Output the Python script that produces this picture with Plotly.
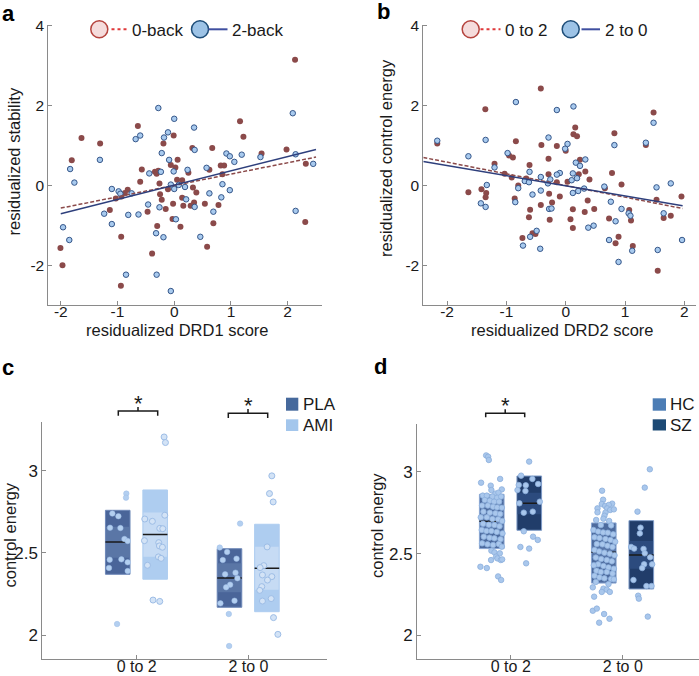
import plotly.graph_objects as go

W, H = 699, 676
def PX(x): return x / W
def PY(y): return 1 - y / H

FONT = "Liberation Sans, Arial, sans-serif"
TXT = "#1a1a1a"
AX = "#8a8a8a"

# ---------------- Panel a : residualized stability vs DRD1 ----------------
a_0back_x = [-1.635,-1.306,-1.806,-2.006,-1.97,-0.641,-0.571,-0.60,-0.94,-0.935,-1.135,-1.03,-0.82,-0.87,-0.93,-0.47,-0.39,-0.30,-0.19,-0.01,-0.06,0.02,0.06,-0.34,-0.31,-0.28,-0.26,-0.25,-0.22,-0.15,-0.11,-0.03,-0.02,0.05,0.11,0.14,0.14,0.16,0.25,0.29,0.32,0.33,0.35,0.39,0.54,0.58,0.62,0.67,0.69,0.78,0.82,0.85,0.88,1.16,1.22,1.54,1.98,2.13,2.32,2.31]
a_0back_y = [1.19,1.05,0.63,-1.57,-2.0,1.49,0.40,0.09,-2.52,-1.29,-0.62,-0.33,-0.11,-0.19,-0.28,-0.66,-1.71,-1.02,1.05,1.25,0.51,0.45,0.64,0.34,0.29,0.37,0.05,-0.22,-0.36,-0.59,-0.10,-0.84,-0.46,0.14,-1.04,0.13,-0.31,-0.51,0.32,-0.51,0.94,-0.05,-0.43,-0.18,-0.46,-1.54,0.39,0.94,-0.95,-0.49,0.50,0.28,0.50,1.61,1.22,0.80,0.90,3.15,0.54,-0.92]
a_2back_x = [-1.835,-1.76,-1.96,-1.85,-1.31,-1.235,-1.10,-1.10,-0.98,-0.95,-0.85,-0.81,-0.75,-0.68,-0.60,-0.63,-0.46,-0.44,-0.32,-0.31,-0.28,-0.26,-0.235,-0.22,-0.19,-0.18,-0.11,-0.09,-0.06,-0.06,0.0,-0.01,0.0,0.03,0.08,0.19,0.21,0.235,0.35,0.36,0.36,0.46,0.57,0.62,0.69,0.83,0.85,0.92,0.98,0.98,1.06,1.19,1.52,2.09,2.14,2.14,2.45]
a_2back_y = [0.41,0.07,-1.05,-1.37,0.64,-0.71,-0.09,-0.97,-0.15,-0.21,-2.24,-0.74,-0.20,1.16,1.25,-0.73,-0.48,0.30,-1.20,-2.24,1.94,-0.55,0.34,0.81,-1.30,1.20,1.33,0.64,-2.65,0.02,1.67,0.35,-0.09,-0.85,0.01,-0.04,-0.35,0.39,1.45,0.89,-0.54,-1.29,0.44,-0.20,-0.66,-0.30,0.03,0.80,0.73,-0.12,0.59,0.77,0.71,1.81,0.78,-0.64,0.54]
a_fit_x = [-2.0, 2.5]
a_fit_0back = [-0.57, 0.71]
a_fit_2back = [-0.71, 0.90]
a_ticks = [-2, -1, 0, 1, 2]
a_ticktext = ["-2", "-1", "0", "1", "2"]
ab_yticks = [-2, 0, 2, 4]
ab_yticktext = ["-2", "0", "2", "4"]

# ---------------- Panel b : residualized control energy vs DRD2 ----------------
b_02_x = [-2.165,-1.64,-1.42,-1.355,-1.34,-1.35,-1.20,-1.03,-0.955,-0.89,-0.91,-0.86,-0.84,-0.80,-0.73,-0.665,-0.61,-0.60,-0.62,-0.56,-0.51,-0.42,-0.41,-0.42,-0.29,-0.29,-0.28,-0.27,-0.23,-0.15,-0.15,-0.10,0.0,0.03,0.08,0.12,0.12,0.13,0.16,0.19,0.22,0.24,0.33,0.32,0.37,0.40,0.48,0.66,0.73,0.78,0.82,0.84,0.89,0.94,1.07,1.10,1.13,1.35,1.48,1.53,1.55,1.65,1.77,1.95]
b_02_y = [1.05,-0.17,-0.10,1.91,-0.19,-0.30,0.54,0.29,0.75,0.70,0.20,-0.33,1.11,0.0,-1.32,0.17,0.51,-0.61,-0.80,-1.20,-1.22,2.43,1.01,-0.49,0.28,0.67,-0.21,-0.86,-0.43,0.99,0.08,-0.28,0.87,0.09,-0.85,-0.60,-1.07,1.28,1.45,1.23,0.28,0.64,0.35,-0.67,-0.38,0.15,-0.59,-0.07,-0.83,0.31,1.31,-1.45,-1.29,0.02,-0.62,-0.88,-1.52,1.01,1.83,-0.36,-2.14,-0.82,-0.76,-0.28]
b_20_x = [-2.165,-1.64,-1.43,-1.35,-1.35,-1.33,-1.20,-0.98,-0.85,-0.84,-0.80,-0.72,-0.69,-0.61,-0.62,-0.60,-0.56,-0.49,-0.43,-0.42,-0.42,-0.29,-0.28,-0.30,-0.26,-0.24,-0.15,-0.10,-0.15,-0.01,0.03,0.10,0.12,0.13,0.12,0.17,0.19,0.21,0.24,0.31,0.33,0.38,0.47,0.65,0.76,0.82,0.84,0.73,0.89,0.94,1.06,1.09,1.12,1.35,1.48,1.53,1.55,1.65,1.77,1.96]
b_20_y = [1.12,0.73,-0.45,1.14,-0.54,0.01,0.45,0.81,-0.42,2.09,-0.07,-1.51,0.11,0.34,0.08,-1.29,-0.23,-1.14,-1.59,0.21,-0.13,1.20,-0.59,0.05,0.15,-0.58,1.89,0.31,0.27,0.92,1.04,0.13,0.30,1.98,-0.19,0.57,0.18,-0.14,0.49,-0.08,0.65,-1.06,-1.01,-0.03,-0.41,1.01,-0.90,-1.37,-1.92,-0.59,-0.70,-0.76,-1.64,1.07,1.57,-0.05,-1.62,-0.70,0.05,-1.37]
b_fit_x = [-2.4, 1.97]
b_fit_02 = [0.70, -0.58]
b_fit_20 = [0.60, -0.51]

# ---------------- Panel c : PLA vs AMI ----------------
cd_categories = ["0 to 2", "2 to 0"]
cd_yticks = [2, 2.5, 3]
cd_yticktext = ["2", "2.5", "3"]
# group order: PLA 0to2, AMI 0to2, PLA 2to0, AMI 2to0
c_mean = [2.567, 2.612, 2.348, 2.407]
c_sd_lo = [2.370, 2.340, 2.169, 2.142]
c_sd_hi = [2.760, 2.884, 2.526, 2.675]
c_ci_lo = [2.471, 2.477, 2.260, 2.276]
c_ci_hi = [2.660, 2.746, 2.437, 2.538]
c_pla02_x = [0.907,0.904,0.782,0.836,0.761,0.854,0.890,0.919,0.758,0.863,0.752,0.919,0.919,0.824]
c_pla02_y = [2.862,2.837,2.740,2.724,2.654,2.652,2.585,2.573,2.459,2.461,2.409,2.443,2.390,2.067]
c_ami02_x = [1.245,1.257,1.072,1.140,1.251,1.206,1.233,1.069,1.197,1.203,1.230,1.194,1.218,1.096,1.146,1.206]
c_ami02_y = [3.207,3.173,2.707,2.693,2.730,2.650,2.648,2.575,2.563,2.543,2.535,2.476,2.467,2.425,2.213,2.205]
c_pla20_x = [1.743,1.770,1.809,1.893,1.791,1.884,1.901,1.836,1.800,1.749,1.875,1.824,1.827,1.925]
c_pla20_y = [2.533,2.457,2.506,2.465,2.370,2.380,2.346,2.307,2.291,2.193,2.209,2.128,1.933,2.679]
c_ami20_x = [2.209,2.188,2.221,2.167,2.137,2.104,2.125,2.209,2.170,2.119,2.101,2.125,2.203,2.224,2.263]
c_ami20_y = [2.970,2.862,2.811,2.537,2.423,2.411,2.366,2.356,2.335,2.295,2.272,2.207,2.222,2.106,2.004]

# ---------------- Panel d : HC vs SZ ----------------
# group order: HC 0to2, SZ 0to2, HC 2to0, SZ 2to0
d_mean = [2.698, 2.808, 2.508, 2.492]
d_sd_lo = [2.531, 2.643, 2.320, 2.284]
d_sd_hi = [2.863, 2.975, 2.688, 2.702]
d_ci_lo = [2.658, 2.741, 2.470, 2.408]
d_ci_hi = [2.738, 2.873, 2.548, 2.577]
d_hc02_x = [0.780,0.798,0.804,0.735,0.905,0.821,0.920,0.827,0.863,0.890,0.750,0.786,0.836,0.878,0.914,0.768,0.813,0.851,0.896,0.744,0.795,0.842,0.878,0.920,0.756,0.813,0.863,0.905,0.732,0.786,0.836,0.887,0.923,0.753,0.804,0.854,0.899,0.741,0.783,0.827,0.875,0.926,0.759,0.810,0.854,0.908,0.744,0.792,0.842,0.893,0.920,0.827,0.854,0.902,0.869,0.881,0.911,0.824,0.923,0.729,0.786,0.887,0.914]
d_hc02_y = [3.101,3.093,3.073,2.934,2.957,2.916,2.893,2.889,2.867,2.873,2.855,2.855,2.849,2.842,2.849,2.828,2.824,2.818,2.818,2.794,2.794,2.787,2.783,2.781,2.757,2.751,2.747,2.743,2.722,2.722,2.712,2.710,2.700,2.683,2.677,2.675,2.667,2.645,2.639,2.639,2.633,2.624,2.604,2.598,2.594,2.588,2.563,2.557,2.553,2.559,2.543,2.518,2.508,2.502,2.482,2.471,2.461,2.461,2.465,2.420,2.412,2.361,2.339]
d_sz02_x = [1.164,1.092,1.193,1.244,1.071,1.134,1.060,1.131,1.259,1.077,1.196,1.116,1.116,1.199,1.241,1.086,1.164,1.137]
d_sz02_y = [3.063,2.977,2.957,2.926,2.920,2.918,2.889,2.883,2.818,2.808,2.757,2.751,2.637,2.604,2.584,2.541,2.531,2.441]
d_hc20_x = [1.815,1.824,1.905,1.812,1.842,1.875,1.774,1.860,1.887,1.845,1.774,1.920,1.836,1.827,1.762,1.878,1.804,1.896,1.738,1.780,1.824,1.866,1.914,1.747,1.792,1.845,1.890,1.932,1.768,1.818,1.863,1.908,1.747,1.789,1.836,1.884,1.926,1.759,1.807,1.857,1.902,1.780,1.741,1.827,1.872,1.920,1.765,1.804,1.857,1.908,1.747,1.792,1.836,1.896,1.920,1.759,1.872,1.732,1.827,1.857,1.884,1.744,1.812,1.732,1.768,1.833,1.789,1.881]
d_hc20_y = [2.885,2.830,2.806,2.804,2.792,2.798,2.777,2.777,2.767,2.751,2.753,2.771,2.732,2.714,2.706,2.700,2.675,2.673,2.645,2.635,2.630,2.628,2.618,2.600,2.596,2.590,2.584,2.573,2.559,2.557,2.549,2.541,2.522,2.514,2.506,2.500,2.490,2.476,2.467,2.461,2.453,2.435,2.429,2.425,2.416,2.408,2.396,2.388,2.388,2.378,2.365,2.355,2.349,2.345,2.343,2.327,2.314,2.294,2.286,2.280,2.266,2.237,2.266,2.151,2.164,2.131,2.078,2.102]
d_sz20_x = [2.241,2.196,2.131,2.158,2.152,2.074,2.101,2.185,2.196,2.244,2.262,2.190,2.173,2.095,2.211,2.256,2.137,2.143,2.223]
d_sz20_y = [3.016,2.904,2.757,2.659,2.624,2.541,2.531,2.529,2.502,2.478,2.435,2.435,2.412,2.339,2.302,2.302,2.243,2.225,2.115]

fig = go.Figure()

RED = "#8B4A4A"
BLUE_F = "#A8CAEE"
BLUE_L = "#36578A"

def sc(x, y, xa, ya, marker):
    fig.add_trace(go.Scatter(x=x, y=y, mode="markers", marker=marker, xaxis=xa, yaxis=ya,
                             showlegend=False, hoverinfo="skip"))

def ln(x, y, xa, ya, line):
    fig.add_trace(go.Scatter(x=x, y=y, mode="lines", line=line, xaxis=xa, yaxis=ya,
                             showlegend=False, hoverinfo="skip"))

red_m = dict(size=6, color=RED, line=dict(width=0))
blue_m = dict(size=5.5, color=BLUE_F, line=dict(width=1, color=BLUE_L))

# panel a
sc(a_0back_x, a_0back_y, "x", "y", red_m)
sc(a_2back_x, a_2back_y, "x", "y", blue_m)
ln(a_fit_x, a_fit_0back, "x", "y", dict(color=RED, width=1.5, dash="4px,2px"))
ln(a_fit_x, a_fit_2back, "x", "y", dict(color="#2E3F7C", width=1.5))
# panel b
sc(b_02_x, b_02_y, "x2", "y2", red_m)
sc(b_20_x, b_20_y, "x2", "y2", blue_m)
ln(b_fit_x, b_fit_02, "x2", "y2", dict(color=RED, width=1.5, dash="4px,2px"))
ln(b_fit_x, b_fit_20, "x2", "y2", dict(color="#2E3F7C", width=1.5))

# box panels
OFFS = [-0.17, 0.165]
BW = 0.22

def boxes(mean, sdlo, sdhi, cilo, cihi, xa, ya, outer_cols, inner_cols, edge_cols):
    for i in range(4):
        cat = 1 + i // 2
        c = cat + OFFS[i % 2]
        fig.add_trace(go.Bar(x=[c], base=[sdlo[i]], y=[sdhi[i] - sdlo[i]], width=BW,
                             marker=dict(color=outer_cols[i % 2], line=dict(width=1, color=edge_cols[i % 2])),
                             xaxis=xa, yaxis=ya, showlegend=False, hoverinfo="skip"))
        fig.add_trace(go.Bar(x=[c], base=[cilo[i]], y=[cihi[i] - cilo[i]], width=BW - 0.01,
                             marker=dict(color=inner_cols[i % 2], line=dict(width=0)),
                             xaxis=xa, yaxis=ya, showlegend=False, hoverinfo="skip"))
        ln([c - BW / 2, c + BW / 2], [mean[i], mean[i]], xa, ya, dict(color="#1a1a1a", width=1.5))

boxes(c_mean, c_sd_lo, c_sd_hi, c_ci_lo, c_ci_hi, "x3", "y3",
      ["#4A6599", "#AECDF0"], ["#5A76A6", "#C6DBF4"], ["#6F89B8", "#AECDF0"])
boxes(d_mean, d_sd_lo, d_sd_hi, d_ci_lo, d_ci_hi, "x4", "y4",
      ["#4D6B9E", "#213D6A"], ["#5977AA", "#2C4B7E"], ["#8AA6D2", "#7F9CC8"])

pla_m = dict(size=5.5, color="#B3CFF0", line=dict(width=0.5, color="#9DBDE6"))
ami_m = dict(size=6, color="#D3E3F6", line=dict(width=1, color="#9DBDE6"))
sc(c_pla02_x, c_pla02_y, "x3", "y3", pla_m)
sc(c_ami02_x, c_ami02_y, "x3", "y3", ami_m)
sc(c_pla20_x, c_pla20_y, "x3", "y3", pla_m)
sc(c_ami20_x, c_ami20_y, "x3", "y3", ami_m)

d_m = dict(size=5.5, color="#A9C7EC", line=dict(width=0.8, color="#8CAEDC"))
sc(d_hc02_x, d_hc02_y, "x4", "y4", d_m)
sc(d_sz02_x, d_sz02_y, "x4", "y4", d_m)
sc(d_hc20_x, d_hc20_y, "x4", "y4", d_m)
sc(d_sz20_x, d_sz20_y, "x4", "y4", d_m)

def axis(**kw):
    d = dict(showline=True, linecolor=AX, linewidth=1, ticks="inside", ticklen=4, tickcolor=AX,
             tickwidth=1, showgrid=False, zeroline=False, automargin=False, mirror=False,
             tickfont=dict(family=FONT, size=15.5, color=TXT), fixedrange=True)
    d.update(kw)
    return d

big = dict(family=FONT, size=17, color=TXT)
xcat = dict(family=FONT, size=16, color=TXT)
fig.update_layout(
    width=W, height=H, margin=dict(l=0, r=0, t=0, b=0),
    paper_bgcolor="white", plot_bgcolor="white", barmode="overlay", showlegend=False,
    xaxis=axis(domain=[PX(48.3), PX(321.7)], range=[-2.22, 2.6], tickvals=a_ticks, ticktext=a_ticktext, anchor="y", ticklabelstandoff=-8),
    yaxis=axis(domain=[PY(305), PY(24.7)], range=[-3, 4.03], tickvals=ab_yticks, ticktext=ab_yticktext, anchor="x"),
    xaxis2=axis(domain=[PX(423.3), PX(695.7)], range=[-2.4, 2.19], tickvals=a_ticks, ticktext=a_ticktext, anchor="y2", ticklabelstandoff=-8),
    yaxis2=axis(domain=[PY(305), PY(24.7)], range=[-3, 4.03], tickvals=ab_yticks, ticktext=ab_yticktext, anchor="x2"),
    xaxis3=axis(domain=[PX(42.3), PX(326.7)], range=[0.155, 2.70], tickvals=[1, 2], ticktext=cd_categories, anchor="y3", tickfont=xcat, ticklabelstandoff=-8),
    yaxis3=axis(domain=[PY(659.3), PY(421.7)], range=[1.852, 3.30], tickvals=cd_yticks, ticktext=cd_yticktext, anchor="x3", tickfont=big),
    xaxis4=axis(domain=[PX(417), PX(699)], range=[0.163, 2.68], tickvals=[1, 2], ticktext=cd_categories, anchor="y4", tickfont=xcat, ticklabelstandoff=-8),
    yaxis4=axis(domain=[PY(659.3), PY(424)], range=[1.854, 3.293], tickvals=cd_yticks, ticktext=cd_yticktext, anchor="x4", tickfont=big),
)

ann = []
shapes = []

def text(t, x, y, size=16.5, angle=0, xanchor="center", bold=False):
    ann.append(dict(text=("<b>%s</b>" % t) if bold else t, x=PX(x), y=PY(y), xref="paper", yref="paper",
                    showarrow=False, textangle=angle, xanchor=xanchor, yanchor="middle",
                    font=dict(family=FONT, size=size, color="black" if bold else TXT)))

# panel letters
text("a", 0, 13, size=22, xanchor="left", bold=True)
text("b", 375, 12, size=22, xanchor="left", bold=True)
text("c", 0, 367, size=22, xanchor="left", bold=True)
text("d", 372, 366, size=22, xanchor="left", bold=True)

# axis titles
text("residualized stability", 13.5, 162, angle=-90)
text("residualized DRD1 score", 177.5, 329.5)
text("residualized control energy", 385.5, 158.5, angle=-90)
text("residualized DRD2 score", 562.5, 329.5)
text("control energy", 9, 535.5, angle=-90)
text("control energy", 376.5, 525.5, angle=-90)

# scatter legends
def circle(cx, cy, r, fill, edge, w):
    shapes.append(dict(type="circle", xref="paper", yref="paper", xsizemode="pixel", ysizemode="pixel",
                       xanchor=PX(cx), yanchor=PY(cy), x0=-r, x1=r, y0=-r, y1=r,
                       fillcolor=fill, line=dict(color=edge, width=w)))

def seg(x0, y0, x1, y1, color, width, dash="solid"):
    shapes.append(dict(type="line", xref="paper", yref="paper", x0=PX(x0), y0=PY(y0), x1=PX(x1), y1=PY(y1),
                       line=dict(color=color, width=width, dash=dash)))

for (cx, lx0, lx1, tx, lab, fill, edge, lcol, dash) in [
        (99.3, 111.5, 128.5, 130, "0-back", "#F5DCDC", "#B5443E", "#E0383A", "3px,3px"),
        (200, 208.5, 227.5, 229.5, "2-back", "#9DC3E6", "#1F4E79", "#3F4FA0", "solid"),
        (470.7, 480.5, 500.5, 502.5, "0 to 2", "#F5DCDC", "#B5443E", "#E0383A", "3px,3px"),
        (570.7, 581.5, 600, 602.5, "2 to 0", "#9DC3E6", "#1F4E79", "#3F4FA0", "solid")]:
    circle(cx, 29.3, 8.5, fill, edge, 1.5)
    seg(lx0, 29.3, lx1, 29.3, lcol, 2, dash)
    text(lab, tx, 30, size=17, xanchor="left")

# box legends
def square(x0, y0, x1, y1, color):
    shapes.append(dict(type="rect", xref="paper", yref="paper", x0=PX(x0), y0=PY(y0), x1=PX(x1), y1=PY(y1),
                       fillcolor=color, line=dict(width=0)))

square(286, 397.7, 298.3, 410.7, "#46699C"); text("PLA", 300.5, 404.5, size=17, xanchor="left")
square(286, 419.3, 298.3, 431, "#A3C6EC"); text("AMI", 300.5, 425.5, size=17, xanchor="left")
square(652.7, 398.3, 666, 410.7, "#4C7DB5"); text("HC", 667.5, 404.5, size=17, xanchor="left")
square(652.7, 419.3, 666, 430.5, "#1D4A75"); text("SZ", 667.5, 425.5, size=17, xanchor="left")

# significance brackets
def bracket(x0, x1, yh, yend, ytop, star_y):
    xc = (x0 + x1) / 2
    path = "M %f,%f L %f,%f L %f,%f L %f,%f M %f,%f L %f,%f" % (
        PX(x0), PY(yend), PX(x0), PY(yh), PX(x1), PY(yh), PX(x1), PY(yend),
        PX(xc), PY(yh), PX(xc), PY(ytop))
    shapes.append(dict(type="path", xref="paper", yref="paper", path=path, line=dict(color="#1a1a1a", width=1.5)))
    text("*", xc, star_y, size=22)

bracket(118.3, 157.7, 411, 415.7, 407, 403)
bracket(228.3, 267.7, 413.3, 418, 409, 405)
bracket(485.7, 524.7, 413.3, 417.3, 409.3, 405)

fig.update_layout(annotations=ann, shapes=shapes)
fig.write_html("out.html", config={"displayModeBar": False},
               post_script="document.body.style.margin='0';document.body.style.overflow='hidden';")
